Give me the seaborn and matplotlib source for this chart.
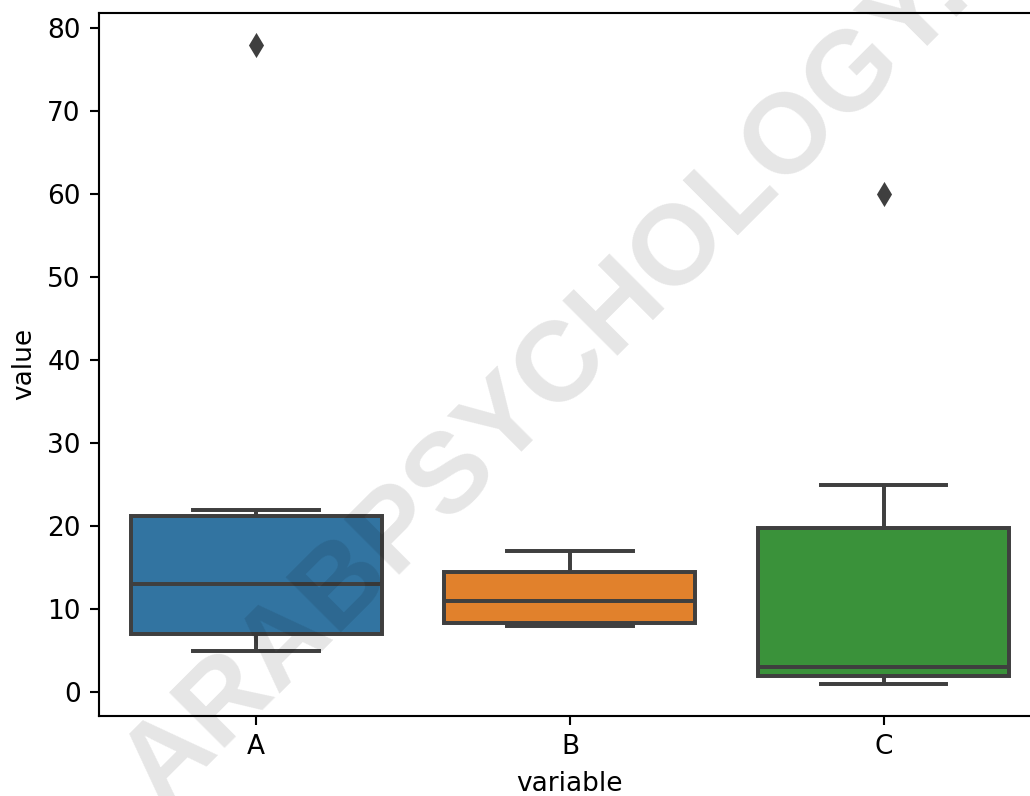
import pandas as pd
import numpy as np
import matplotlib
matplotlib.use('Agg')
import matplotlib.pyplot as plt
import seaborn as sns

# raw values per column
A = [5, 7, 7, 12, 14, 21, 22, 78]
B = [8, 8, 8.5, 10, 12, 14, 16, 17]
C = [1, 2, 2, 3, 3, 18, 25, 60]

df = pd.DataFrame({'A': A, 'B': B, 'C': C})
df_long = pd.melt(df)

fig = plt.figure(figsize=(1030/190, 796/190), dpi=190)
ax = fig.add_axes([0.0964, 0.1005, 0.9139, 0.8835])

gray = '#3f3f3f'
sns.boxplot(x='variable', y='value', data=df_long, ax=ax,
            hue='variable', palette='tab10', saturation=0.75, legend=False,
            linecolor=gray, linewidth=1.5,
            flierprops=dict(marker='d', markerfacecolor=gray,
                            markeredgecolor=gray, markersize=5.5))

# watermark
fig.text(661/1030, 1 - 310/796, 'ARABPSYCHOLOGY.COM', rotation=45, rotation_mode='anchor',
         ha='center', va='baseline', fontsize=43, fontweight='bold',
         family='Liberation Sans', color='black', alpha=0.1)

fig.savefig('out.png', dpi=190)
